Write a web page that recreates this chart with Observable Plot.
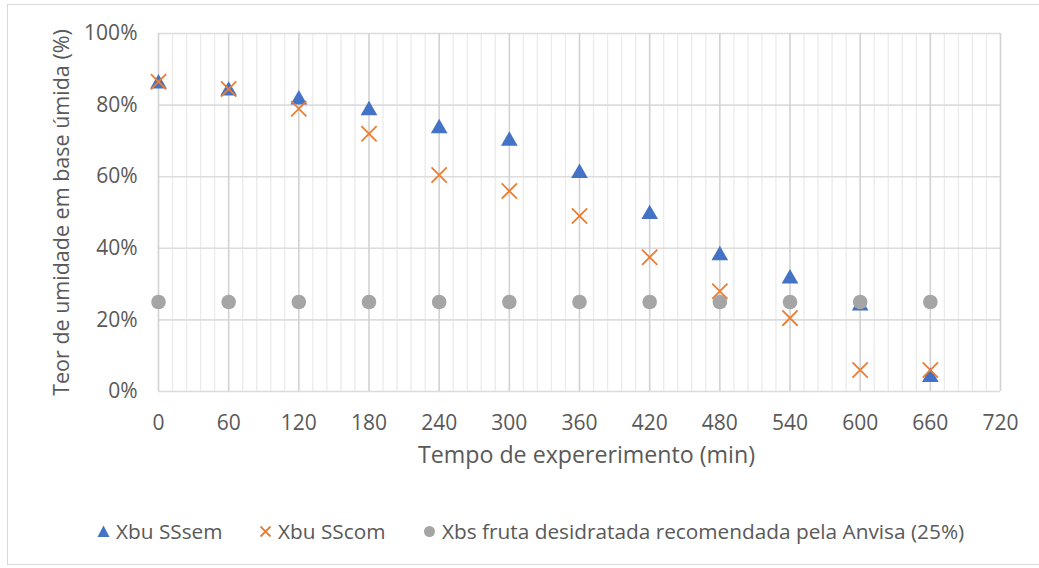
<!DOCTYPE html>
<html>
<head>
<meta charset="utf-8">
<script src="https://cdn.jsdelivr.net/npm/d3@7"></script>
<script src="https://cdn.jsdelivr.net/npm/@observablehq/plot@0.6"></script>
<style>
  html, body { margin: 0; padding: 0; background: #fff; }
  #chart { position: relative; width: 1039px; height: 568px; overflow: hidden; font-family: "Open Sans", Lato, sans-serif; color: #595959; }
  #frame { position: absolute; left: 7px; top: 4px; width: 1050px; height: 561px; border: 1.5px solid #d9d9d9; box-sizing: border-box; }
  #plot { position: absolute; left: 0; top: 0; }
  .legend { position: absolute; top: 517px; left: 0; width: 1039px; height: 28px; font-size: 20.8px; }
  .item { position: absolute; top: 0; display: flex; align-items: center; gap: 6px; white-space: nowrap; }
  .item svg { display: block; }
</style>
</head>
<body>
<div id="chart">
  <div id="frame"></div>
  <div id="plot"></div>
  <div class="legend" id="legend"></div>
</div>
<script>
// Drying time (min)
const times = [0, 60, 120, 180, 240, 300, 360, 420, 480, 540, 600, 660];
// Wet-basis moisture content (%)
const xbuSSsem = [86, 84, 81.5, 78.5, 73.5, 70, 61, 49.5, 38, 31.5, 24, 4];
const xbuSScom = [86.5, 84.5, 79, 72, 60.5, 56, 49, 37.5, 28, 20.5, 6, 6];
const anvisa = [25, 25, 25, 25, 25, 25, 25, 25, 25, 25, 25, 25];

const seriesNames = ["Xbu SSsem", "Xbu SScom", "Xbs fruta desidratada recomendada pela Anvisa (25%)"];
const seriesColors = ["#4472C4", "#ED7D31", "#A5A5A5"];

const xMajorTicks = [0, 60, 120, 180, 240, 300, 360, 420, 480, 540, 600, 660, 720];
const xMinorTicks = d3.range(0, 721, 12).filter(d => d % 60 !== 0);
const yTicks = [0, 20, 40, 60, 80, 100];

const xTitle = "Tempo de expererimento (min)";
const yTitle = "Teor de umidade em base úmida (%)";

const rows = times.map((t, i) => ({t, sem: xbuSSsem[i], com: xbuSScom[i], anv: anvisa[i]}));

const plot = Plot.plot({
  width: 1039,
  height: 490,
  marginLeft: 158,
  marginRight: 39,
  marginTop: 33,
  marginBottom: 99,
  style: {fontFamily: "'Open Sans', Lato, sans-serif", fontSize: "21px", color: "#595959", background: "transparent"},
  x: {domain: [0, 720], label: null},
  y: {domain: [0, 100], label: null},
  marks: [
    Plot.ruleX(xMinorTicks, {stroke: "#ebebeb", strokeWidth: 1.3}),
    Plot.ruleY(yTicks, {stroke: "#dcdcdc", strokeWidth: 1.6}),
    Plot.ruleX(xMajorTicks, {stroke: "#d2d2d2", strokeWidth: 1.6}),
    Plot.axisX({ticks: xMajorTicks, tickSize: 0, tickPadding: 24, label: null}),
    Plot.axisY({ticks: yTicks, tickSize: 0, tickPadding: 21, tickFormat: d => d + "%", label: null}),
    Plot.dot(rows, {x: "t", y: "sem", symbol: "triangle", r: 6.2, fill: seriesColors[0]}),
    Plot.dot(rows, {x: "t", y: "com", symbol: "times", r: 7, stroke: seriesColors[1], strokeWidth: 1.8}),
    Plot.dot(rows, {x: "t", y: "anv", symbol: "circle", r: 7.3, fill: seriesColors[2]}),
    Plot.text([xTitle], {frameAnchor: "bottom", textAnchor: "middle", dy: 71, dx: 7, fontSize: 23.2, fill: "#595959"}),
    Plot.text([yTitle], {frameAnchor: "left", textAnchor: "middle", rotate: -90, dx: -96, fontSize: 21.5, fill: "#595959"})
  ]
});
document.getElementById("plot").appendChild(plot);

// Legend below the plot
const legend = document.getElementById("legend");
const itemLeft = [97, 259, 423];
const icons = [
  c => `<svg width="13" height="13" viewBox="-6.5 -6.5 13 13"><path d="M0,-6L6,5.5L-6,5.5Z" fill="${c}"/></svg>`,
  c => `<svg width="13" height="13" viewBox="-6.5 -6.5 13 13"><path d="M-5,-5L5,5M5,-5L-5,5" stroke="${c}" stroke-width="1.8"/></svg>`,
  c => `<svg width="13" height="13" viewBox="-6.5 -6.5 13 13"><circle r="5.5" fill="${c}"/></svg>`
];
seriesNames.forEach((name, i) => {
  const el = document.createElement("div");
  el.className = "item";
  el.style.left = itemLeft[i] + "px";
  el.innerHTML = icons[i](seriesColors[i]) + `<span>${name}</span>`;
  legend.appendChild(el);
});
</script>
</body>
</html>
